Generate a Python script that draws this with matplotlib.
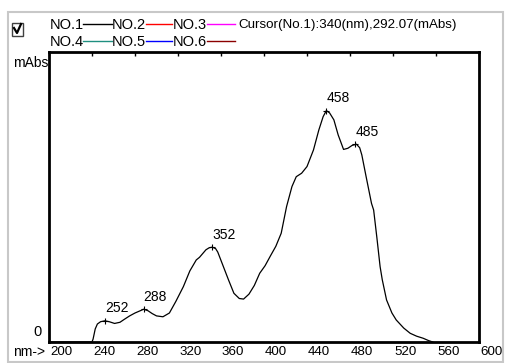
import matplotlib
matplotlib.use('Agg')
import matplotlib.pyplot as plt
import matplotlib.transforms as mtransforms
from matplotlib import font_manager
from matplotlib.patches import Rectangle
from matplotlib.lines import Line2D

# spectrum of NO.1 (nm, mAbs)
wavelength = [200, 220, 240, 241, 243, 245, 248, 252, 256, 261, 266, 270, 275, 280,
              285, 288, 292, 296, 300, 306, 312, 318, 325, 331, 337, 340, 346, 349,
              352, 355, 357, 362, 367, 372, 377, 381, 386, 391, 396, 401, 406, 411,
              416, 421, 426, 430, 435, 440, 446, 451, 455, 458, 461, 465, 469, 474,
              478, 482, 486, 489, 491, 495, 500, 502, 505, 508, 510, 514, 519, 523,
              530, 536, 542, 548, 553, 557]
mabs = [0, 0, 0, 10, 45, 62, 70, 73, 70, 64, 68, 78, 90, 100,
        108, 113, 108, 98, 90, 87, 100, 140, 191, 245, 283, 292, 318, 325,
        327, 322, 310, 262, 214, 168, 150, 148, 165, 195, 237, 263, 297, 330,
        375, 467, 536, 570, 582, 605, 662, 731, 777, 798, 790, 766, 714, 664,
        668, 678, 682, 670, 645, 570, 478, 455, 360, 260, 215, 145, 100, 76,
        48, 30, 20, 13, 5, 0]

peaks = [252, 288, 352, 458, 485]
peak_vals = [73, 113, 327, 798, 682]

xticks = [200, 240, 280, 320, 360, 400, 440, 480, 520, 560, 600]

legend_rows = [
    [('NO.1', 'black'), ('NO.2', '#ff0000'), ('NO.3', '#ff00ff')],
    [('NO.4', '#1f8f80'), ('NO.5', '#0000ff'), ('NO.6', '#8b0000')],
]
cursor_text = 'Cursor(No.1):340(nm),292.07(mAbs)'

names = {f.name for f in font_manager.fontManager.ttflist}
font = 'Liberation Sans' if 'Liberation Sans' in names else 'DejaVu Sans'
plt.rcParams['font.family'] = font

W, H = 505, 363
fig = plt.figure(figsize=(W / 100, H / 100), dpi=100)


def fx(px):
    return px / W


def fy(py):
    return 1 - py / H


# window frame
fig.patches.append(Rectangle((fx(8), fy(362)), fx(495), 350 / H, transform=fig.transFigure,
                             fill=False, edgecolor='#c8c8c8', lw=1.5))

# checkbox
fig.patches.append(Rectangle((fx(12), fy(36)), fx(11), 13 / H, transform=fig.transFigure,
                             fill=False, edgecolor='#404040', lw=1.0))
fig.lines.append(Line2D([fx(14), fx(17), fx(21)], [fy(28), fy(33), fy(24)],
                        transform=fig.transFigure, color='black', lw=1.6))

# legend
seg_x = [(50, 82, 112), (112, 145, 172), (173, 206, 235)]
for row, ypx in zip(legend_rows, [25, 42]):
    for (name, col), (tx, lx0, lx1) in zip(row, seg_x):
        fig.text(fx(tx), fy(ypx), name, fontsize=10.5, ha='left', va='center')
        fig.lines.append(Line2D([fx(lx0 + 1), fx(lx1)], [fy(ypx - 1), fy(ypx - 1)],
                                transform=fig.transFigure, color=col, lw=1.0))
fig.text(fx(238), fy(25), cursor_text, fontsize=9.6, ha='left', va='center')

ax = fig.add_axes([fx(49), fy(342), 430 / W, 290 / H])
ax.plot(wavelength, mabs, color='black', lw=0.9)
ax.plot(peaks, peak_vals, '+', color='black', ms=5, mew=0.8)
for p, v in zip(peaks, peak_vals):
    ax.annotate(str(p), (p, v), xytext=(0, 4), textcoords='offset points',
                ha='left', va='bottom', fontsize=10)

ax.set_xlim(200, 600)
ax.set_ylim(0, 1000)
ax.set_xticks(xticks)
ax.set_xticklabels([str(t) for t in xticks], ha='left', fontsize=9.6)
ax.tick_params(axis='x', direction='in', length=3, width=1, top=True, bottom=False,
               labelbottom=True, pad=3)
offset = mtransforms.ScaledTranslation(1 / 100, 0, fig.dpi_scale_trans)
for lab in ax.get_xticklabels():
    lab.set_transform(lab.get_transform() + offset)
ax.set_yticks([])
for s in ax.spines.values():
    s.set_linewidth(2)
    s.set_color('black')

ax.text(-0.016, 0.012, '0', transform=ax.transAxes, ha='right', va='bottom', fontsize=10.5)
fig.text(fx(13), fy(352), 'nm->', ha='left', va='center', fontsize=10)
fig.text(fx(13), fy(63), 'mAbs', ha='left', va='center', fontsize=10)

fig.savefig('out.png', dpi=100)
